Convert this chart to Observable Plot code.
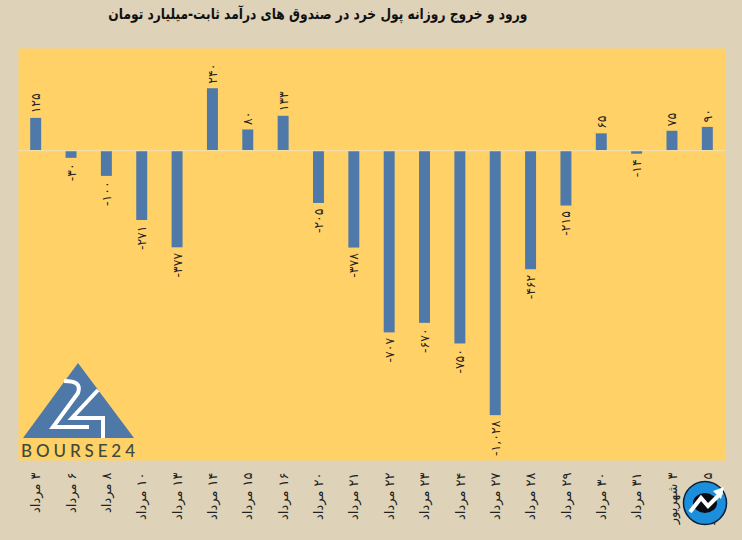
<!DOCTYPE html>
<html lang="fa"><head><meta charset="utf-8">
<script src="https://cdn.jsdelivr.net/npm/d3@7"></script>
<script src="https://cdn.jsdelivr.net/npm/@observablehq/plot@0.6"></script>
<style>
html,body{margin:0;padding:0;background:#DED3B9;width:742px;height:540px;overflow:hidden}
#wrap{position:relative;width:742px;height:540px}
#title{height:48px;box-sizing:border-box;position:relative}
#title span{position:absolute;right:215px;top:3px;direction:rtl;font:bold 15px/22px "DejaVu Sans",sans-serif;color:#111;white-space:nowrap;transform-origin:right center}
#chart svg{display:block}
.ov{position:absolute;left:0;top:0;pointer-events:none}
</style></head><body>
<div id="wrap">
<div id="title"><span>ورود و خروج روزانه پول خرد در صندوق های درآمد ثابت-میلیارد تومان</span></div>
<div id="chart"></div>
<svg class="ov" width="742" height="540" viewBox="0 0 742 540">
  <path d="M78 363L134 438H23Z" fill="#4E78A8"/>
  <path d="M64 381C76 381 81 384 78 393L53 427H89" fill="none" stroke="#fff" stroke-width="4"/>
  <path d="M98 390L72 418H103V438" fill="none" stroke="#fff" stroke-width="4"/>
  <text x="21" y="457" textLength="114" font-family="Lato,sans-serif" font-weight="500" font-size="17" fill="#3C4A40">BOURSE24</text>
  <circle cx="705" cy="503" r="21.5" fill="#1C8FDC" stroke="#0B2238" stroke-width="1.5"/>
  <ellipse cx="705" cy="503" rx="12" ry="10" fill="#0B0B14"/>
  <path d="M690 512L701 498L708 506L722 492" fill="none" stroke="#fff" stroke-width="4"/>
  <path d="M724 487L713 491L721 499Z" fill="#fff"/>
</svg>
</div>
<script>
const dates = ["۳ مرداد","۶ مرداد","۸ مرداد","۱۰ مرداد","۱۳ مرداد","۱۴ مرداد","۱۵ مرداد","۱۶ مرداد","۲۰ مرداد","۲۱ مرداد","۲۲ مرداد","۲۳ مرداد","۲۴ مرداد","۲۷ مرداد","۲۸ مرداد","۲۹ مرداد","۳۰ مرداد","۳۱ مرداد","۳ شهریور","۵ شهریور"];
const values = [125,-30,-100,-271,-377,240,80,133,-205,-378,-707,-670,-750,-1028,-462,-215,65,-14,75,90];
const valueLabels = ["۱۲۵","-۳۰","-۱۰۰","-۲۷۱","-۳۷۷","۲۴۰","۸۰","۱۳۳","-۲۰۵","-۳۷۸","-۷۰۷","-۶۷۰","-۷۵۰","-۱,۰۲۸","-۴۶۲","-۲۱۵","۶۵","-۱۴","۷۵","۹۰"];
const rows = dates.map((date,i)=>({date,value:values[i],label:valueLabels[i]}));
const font = "DejaVu Sans";
const chart = Plot.plot({
  width:742,height:492,
  marginLeft:18,marginRight:17,marginTop:0,marginBottom:80,
  style:{background:"transparent",fontFamily:font},
  x:{type:"band",domain:dates,paddingInner:0.69,paddingOuter:0.345,align:0.5,round:false,label:null},
  y:{domain:[-1202,396],label:null,axis:null},
  marks:[
    Plot.frame({fill:"#FFD166",stroke:null}),
    Plot.barY(rows,{x:"date",y:"value",fill:"#4F79A8"}),
    Plot.ruleY([0],{stroke:"#F0DFA8",strokeWidth:1.2}),
    Plot.text(rows.filter(d=>d.value>=0),{x:"date",y:"value",text:"label",rotate:-90,textAnchor:"start",dy:-5,fontSize:12.5,fill:"#222"}),
    Plot.text(rows.filter(d=>d.value<0),{x:"date",y:"value",text:"label",rotate:-90,textAnchor:"end",dy:5,fontSize:12.5,fill:"#222"}),
    Plot.axisX({anchor:"bottom",tickSize:0,tickPadding:12,tickRotate:-90,fontSize:13,fill:"#222",label:null,tickFormat:d=>"\u200F"+d})
  ]
});
document.getElementById("chart").appendChild(chart);
const t=document.querySelector("#title span");
t.style.transform="scaleX("+(419/t.getBoundingClientRect().width)+")";
</script>
</body></html>
